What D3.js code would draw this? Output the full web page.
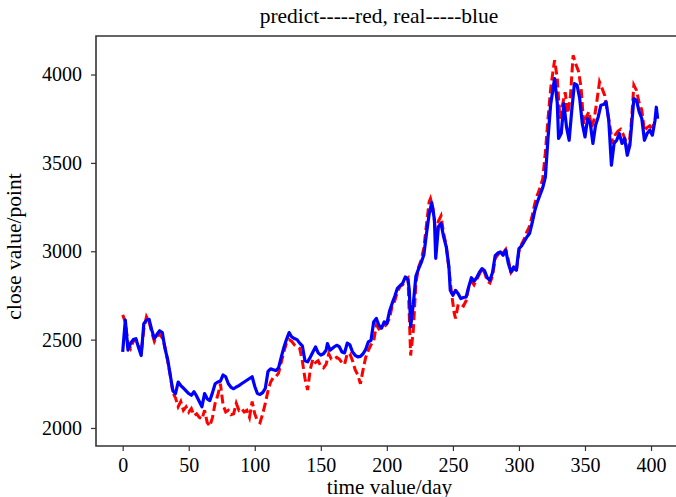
<!DOCTYPE html>
<html>
<head>
<meta charset="utf-8">
<script src="https://cdn.jsdelivr.net/npm/d3@7"></script>
<style>
  body { margin: 0; background: #fff; }
  svg text { font-family: "Liberation Serif", "Times New Roman", serif; fill: #000; }
</style>
</head>
<body>
<svg id="chart" width="676" height="497"></svg>
<script>
// values (day -> close)
var realDays = [0,2,4,6,8,10,12,14,16,18,20,22,24,26,28,30,32,34,36,38,40,42,44,46,48,50,52,54,56,58,60,62,64,66,68,70,72,74,76,78,80,82,84,86,88,90,92,94,96,98,100,102,104,106,108,110,112,114,116,118,120,122,124,126,128,130,132,134,136,138,140,142,144,146,148,150,152,154,155,157,160,162,164,166,168,170,172,174,176,178,180,182,184,186,188,190,192,194,196,198,200,202,204,206,208,210,212,214,216,217,218,220,222,224,226,228,230,232,234,236,237,239,241,243,245,247,248,250,252,254,256,258,260,262,264,266,268,270,272,274,276,278,280,282,284,286,288,290,292,294,296,298,300,302,304,306,308,310,312,314,316,318,320,322,324,326,327,329,330,332,334,336,338,340,342,344,346,348,350,352,354,356,358,360,362,364,366,368,370,372,374,376,378,380,382,384,385,387,389,391,393,395,397,399,401,403,404,405];
var realClose = [2430,2610,2440,2480,2500,2505,2455,2410,2590,2610,2615,2555,2505,2530,2550,2540,2450,2390,2300,2210,2195,2260,2240,2225,2210,2195,2185,2205,2180,2150,2120,2195,2165,2155,2200,2250,2260,2265,2300,2290,2250,2230,2222,2232,2240,2250,2260,2270,2280,2290,2235,2195,2190,2200,2225,2320,2335,2330,2325,2340,2400,2455,2500,2540,2515,2506,2500,2480,2465,2380,2374,2400,2430,2458,2425,2412,2420,2440,2477,2440,2458,2468,2460,2430,2425,2480,2470,2430,2411,2402,2405,2420,2445,2487,2496,2600,2620,2580,2565,2600,2590,2660,2705,2745,2790,2805,2820,2855,2840,2780,2572,2700,2860,2900,2935,2980,3100,3210,3275,3180,2960,3138,3157,3081,3024,2911,2779,2751,2779,2760,2732,2738,2741,2800,2850,2830,2850,2880,2902,2890,2850,2836,2880,2975,2990,2996,2977,3006,2930,2883,2911,2892,3015,3030,3055,3081,3100,3160,3230,3280,3320,3360,3420,3640,3830,3930,3977,3840,3638,3666,3836,3704,3628,3798,3949,3940,3864,3720,3647,3751,3723,3610,3713,3760,3826,3830,3845,3740,3487,3610,3628,3666,3610,3640,3543,3600,3685,3864,3854,3790,3751,3628,3666,3685,3657,3740,3815,3750];

var predDays = [0,2,4,6,8,10,12,14,16,18,20,22,24,26,28,30,32,34,36,38,40,42,44,46,48,50,52,54,56,58,60,62,64,66,68,70,72,74,76,78,80,82,84,86,88,90,92,94,96,98,100,102,104,106,108,110,112,114,116,118,120,122,124,126,128,130,132,134,136,138,140,142,144,146,148,150,152,154,156,158,160,162,164,166,168,170,172,174,176,178,180,182,184,186,188,190,192,194,196,198,200,202,204,206,208,210,212,214,216,218,220,222,224,226,228,230,232,233,235,237,239,241,243,245,247,249,251,252,254,256,258,260,262,264,266,268,270,272,274,276,278,280,282,284,286,288,290,292,294,296,298,300,302,304,306,308,310,312,314,316,318,320,322,324,326,327,329,331,333,335,337,339,341,343,345,347,349,351,353,355,357,359,361,363,365,367,369,371,373,375,377,379,381,383,385,387,389,391,393,395,397,399,401,402];
var predClose = [2640,2600,2480,2450,2490,2500,2470,2420,2560,2630,2600,2540,2490,2520,2530,2510,2460,2380,2300,2200,2170,2120,2150,2100,2120,2090,2110,2070,2080,2060,2050,2100,2030,2010,2060,2140,2185,2250,2130,2090,2100,2075,2080,2140,2100,2110,2090,2100,2060,2150,2080,2040,2030,2080,2140,2210,2260,2285,2290,2310,2370,2430,2480,2500,2490,2470,2460,2450,2380,2280,2215,2330,2390,2370,2380,2350,2340,2360,2420,2390,2390,2400,2390,2370,2360,2420,2420,2380,2330,2300,2250,2330,2400,2440,2470,2490,2580,2560,2570,2570,2590,2620,2690,2720,2770,2800,2810,2840,2850,2410,2550,2820,2910,2950,3020,3150,3280,3298,3240,3100,3170,3200,3100,3030,2900,2760,2650,2620,2700,2700,2690,2720,2800,2830,2810,2840,2870,2900,2880,2830,2820,2860,2960,2980,3000,2990,3010,2950,2880,2900,2880,3000,3040,3070,3110,3140,3200,3270,3320,3360,3410,3560,3750,3920,4030,4081,3980,3750,3830,3900,3780,3880,4109,4060,4020,3930,3720,3760,3790,3700,3750,3850,3958,3920,3880,3790,3700,3610,3660,3680,3690,3660,3620,3580,3720,3940,3910,3840,3800,3680,3700,3710,3690,3720];

var xTicks = [0,50,100,150,200,250,300,350,400];
var yTicks = [2000,2500,3000,3500,4000];

var svg = d3.select('#chart');
var mLeft = 96, mTop = 36, mBottom = 446, mRight = 683;

var x = d3.scaleLinear().domain([-20.2, 424.2]).range([mLeft, mRight]);
var y = d3.scaleLinear().domain([1898, 4218]).range([mBottom, mTop]);

var toPoints = function(days, vals) {
    return days.map(function(d, i) { return [d, vals[i]]; });
};

var line = d3.line()
    .x(function(p) { return x(p[0]); })
    .y(function(p) { return y(p[1]); });

var plot = svg.append('g');

plot.append('path')
    .datum(toPoints(predDays, predClose))
    .attr('d', line)
    .attr('fill', 'none')
    .attr('stroke', '#ff0000')
    .attr('stroke-width', 3)
    .attr('stroke-dasharray', '9,4');

plot.append('path')
    .datum(toPoints(realDays, realClose))
    .attr('d', line)
    .attr('fill', 'none')
    .attr('stroke', '#0000ff')
    .attr('stroke-width', 3.2)
    .attr('stroke-linejoin', 'round');

// axes
var fmt = d3.format('d');
var xAxis = svg.append('g')
    .attr('transform', 'translate(0,' + mBottom + ')')
    .call(d3.axisBottom(x).tickValues(xTicks).tickFormat(fmt).tickSize(5).tickPadding(7));
var yAxis = svg.append('g')
    .attr('transform', 'translate(' + mLeft + ',0)')
    .call(d3.axisLeft(y).tickValues(yTicks).tickFormat(fmt).tickSize(5).tickPadding(9));

[xAxis, yAxis].forEach(function(ax) {
    ax.select('.domain').remove();
    ax.selectAll('line').attr('stroke', '#333').attr('stroke-width', 1.2);
    ax.selectAll('text').attr('font-size', 20).attr('fill', '#000');
});

// frame (right spine falls outside the picture)
svg.append('path')
    .attr('d', 'M' + mRight + ',' + mTop + 'H' + mLeft + 'V' + mBottom + 'H' + mRight)
    .attr('fill', 'none')
    .attr('stroke', '#333')
    .attr('stroke-width', 1.6);

svg.append('text')
    .attr('x', 379)
    .attr('y', 23)
    .attr('text-anchor', 'middle')
    .attr('font-size', 21.5)
    .text('predict-----red, real-----blue');

svg.append('text')
    .attr('x', (mLeft + mRight) / 2)
    .attr('y', 493.5)
    .attr('text-anchor', 'middle')
    .attr('font-size', 21.2)
    .text('time value/day');

svg.append('text')
    .attr('transform', 'translate(21,246.5) rotate(-90)')
    .attr('text-anchor', 'middle')
    .attr('font-size', 21.5)
    .text('close value/point');
</script>
</body>
</html>
